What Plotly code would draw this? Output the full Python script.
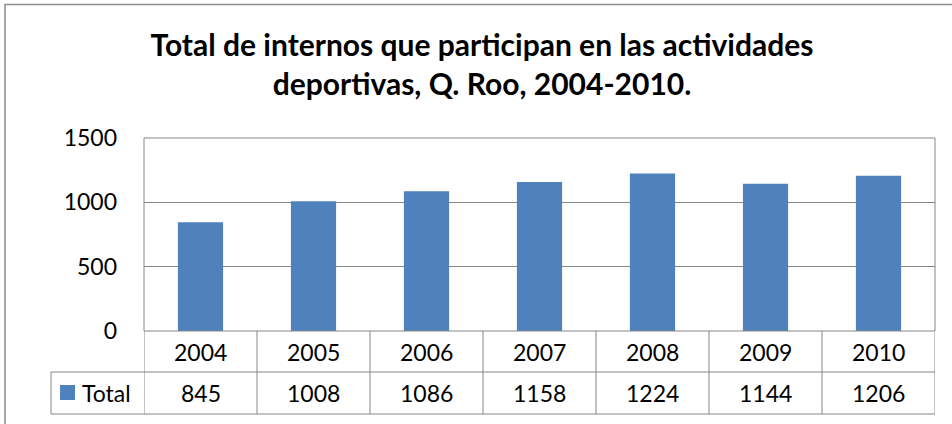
import plotly.graph_objects as go

years = ["2004", "2005", "2006", "2007", "2008", "2009", "2010"]
totals = [845, 1008, 1086, 1158, 1224, 1144, 1206]
series_name = "Total"
y_ticks = [0, 500, 1000, 1500]
title_text = "Total de internos que participan en las actividades<br>deportivas, Q. Roo, 2004-2010."

W, H = 952, 424
L, R, T, B = 144, 935, 138, 331
ph = B - T
pw = R - L

def py(pix):
    return (B - pix) / ph

def px(pix):
    return (pix - L) / pw

BAR = "#4F81BD"
GRID = "#868686"
FONT = "Lato"

fig = go.Figure()
fig.add_trace(go.Bar(x=list(range(len(years))), y=totals, marker=dict(color=BAR, line=dict(width=0)),
                     name=series_name, showlegend=False))

shapes = []
shapes.append(dict(type="rect", xref="paper", yref="paper", x0=0, x1=1, y0=0, y1=1,
                   line=dict(color=GRID, width=1)))
for ypix in [372, 414]:
    shapes.append(dict(type="line", xref="paper", yref="paper", x0=px(51), x1=1, y0=py(ypix), y1=py(ypix),
                       line=dict(color=GRID, width=1)))
n = len(years)
for i in range(n + 1):
    xb = i - 0.5
    shapes.append(dict(type="line", xref="x", yref="paper", x0=xb, x1=xb, y0=0, y1=py(414),
                       line=dict(color=GRID, width=1)))
shapes.append(dict(type="line", xref="paper", yref="paper", x0=px(51), x1=px(51), y0=py(372), y1=py(414),
                   line=dict(color=GRID, width=1)))
shapes.append(dict(type="rect", xref="paper", yref="paper", x0=px(60), x1=px(75), y0=py(385), y1=py(400),
                   fillcolor=BAR, line=dict(width=0)))
shapes.append(dict(type="rect", xref="paper", yref="paper", x0=px(5), x1=px(990), y0=py(460), y1=py(4.5),
                   line=dict(color="#8C8C8C", width=1.5)))

annotations = []
for i, (yr, v) in enumerate(zip(years, totals)):
    annotations.append(dict(x=i, y=py(351.5), xref="x", yref="paper", text=yr, showarrow=False,
                            font=dict(family=FONT, size=23, color="black"), xanchor="center", yanchor="middle"))
    annotations.append(dict(x=i, y=py(393), xref="x", yref="paper", text=str(v), showarrow=False,
                            font=dict(family=FONT, size=23, color="black"), xanchor="center", yanchor="middle"))
annotations.append(dict(x=px(80), y=py(393), xref="paper", yref="paper", text=series_name, showarrow=False,
                        font=dict(family=FONT, size=23, color="black"), xanchor="left", yanchor="middle"))

fig.update_layout(
    width=W, height=H,
    margin=dict(l=L, r=W - R, t=T, b=H - B, pad=0),
    paper_bgcolor="white", plot_bgcolor="white",
    bargap=0.6,
    title=dict(text=title_text, x=482 / W, xanchor="center", y=1 - 56 / H, yanchor="middle",
               font=dict(family=FONT, size=30, color="black", weight="bold")),
    xaxis=dict(range=[-0.5, n - 0.5], showticklabels=False, showgrid=False, zeroline=False,
               showline=False, ticks=""),
    yaxis=dict(range=[0, 1500], tickvals=y_ticks, showgrid=True, gridcolor=GRID, gridwidth=1,
               zeroline=False, showline=False, ticks="", ticklabelstandoff=26,
               tickfont=dict(family=FONT, size=23, color="black")),
    shapes=shapes, annotations=annotations,
    showlegend=False,
)

fig.write_html("out.html", config={"displayModeBar": False},
               post_script="document.body.style.margin='0';document.body.style.overflow='hidden';")
